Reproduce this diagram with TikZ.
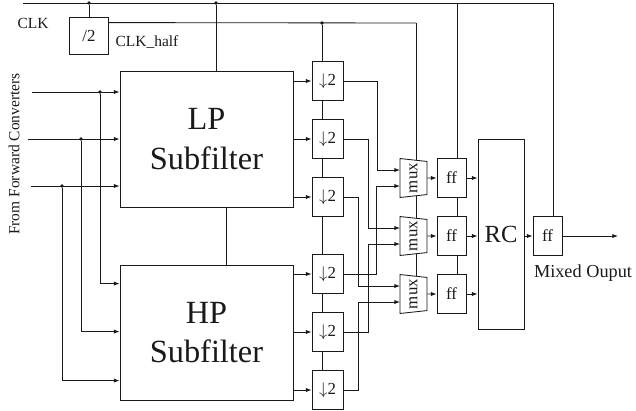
\documentclass[tikz,border=0pt]{standalone}
\usepackage{fontspec}
\setmainfont{Liberation Serif}
\usetikzlibrary{arrows.meta,shapes.geometric,calc,backgrounds}
\definecolor{wireink}{HTML}{1A1A1A}

\begin{document}
\begin{tikzpicture}[
  x=0.025cm,
  y=-0.025cm,
  every node/.style={font=\fontsize{11}{13}\selectfont, text=wireink},
  wire/.style={draw=wireink, line width=0.6pt},
  arr/.style={wire, -{Latex[length=4pt, width=3pt]}},
  blk/.style={draw=wireink, line width=0.6pt, fill=white, inner sep=0pt},
  dsbox/.style={blk, minimum width=0.775cm, minimum height=0.975cm, font=\fontsize{12}{14}\selectfont},
  ffbox/.style={blk, minimum width=0.725cm, minimum height=0.975cm, font=\fontsize{12}{14}\selectfont},
  muxbox/.style={blk, trapezium, trapezium angle=72, trapezium stretches=true,
    rotate=90, shape border rotate=180, minimum width=0.975cm, minimum height=0.675cm,
    font=\fontsize{12}{14}\selectfont},
  dot/.style={circle, fill=wireink, inner sep=0pt, minimum size=2.6pt}
]
  \useasboundingbox (0,0) rectangle (636,410);

  % Subfilters
  \node[blk, minimum width=4.325cm, minimum height=3.4cm, align=center,
    font=\fontsize{23}{29}\selectfont] (lp) at (206.5,139) {LP\\Subfilter};
  \node[blk, minimum width=4.325cm, minimum height=3.375cm, align=center,
    font=\fontsize{23}{28}\selectfont] (hp) at (206.5,332.5) {HP\\Subfilter};

  % Decimators
  \foreach \i/\y in {1/81,2/139,3/197,4/274,5/332,6/390}
    \node[dsbox] (ds\i) at (327.5,\y) {$\downarrow$2};

  % Multiplexers and flip-flops
  \foreach \i/\y in {1/178,2/236,3/294} {
    \node[muxbox] (mux\i) at (413.5,\y) {mux};
    \node[ffbox] (ff\i) at (451.5,\y) {ff};
    \coordinate (mux\i-a) at (400,\y-8);
    \coordinate (mux\i-b) at (400,\y+8);
  }
  \node[blk, minimum width=1.15cm, minimum height=4.75cm,
    font=\fontsize{17.5}{20}\selectfont] (rc) at (501,234) {RC};
  \node[ffbox] (outff) at (547.5,236) {ff};
  \node[blk, minimum width=0.975cm, minimum height=0.925cm,
    font=\fontsize{12}{14}\selectfont] (div) at (89,35.5) {/2};

  % Labels
  \node (clklbl) at (33,23) {CLK};
  \node (halflbl) at (147,42) {CLK\_half};
  \node[font=\fontsize{13}{15}\selectfont] (outlbl) at (583,273) {Mixed Ouput};
  \node[rotate=90] (srclbl) at (14,154) {From Forward Converters};

  % Clock distribution
  \coordinate (clk) at (23,3);
  \coordinate (top) at (553,3);
  \coordinate (fftap) at (457,3);
  \coordinate (sel) at (416,23);
  \draw[wire] (clk) -- (top) -- (top |- outff.north);
  \node[dot] (d1) at (89,3) {};
  \node[dot] (d2) at (216,3) {};
  \node[dot] (d3) at (322,23) {};
  \draw[wire] (d1) -- (div.north);
  \draw[wire] (d2) -- (d2 |- lp.north);
  \draw[wire] ($(div.north east)+(0,6)$) -- (sel);
  \begin{scope}[on background layer]
    \draw[wire] (d3) -- (d3 |- ds6.center);
    \draw[wire] (sel) -- (sel |- mux3.center);
    \draw[wire] (fftap) -- (fftap |- ff3.center);
  \end{scope}
  \draw[wire] ($(lp.south)+(19.5,0)$) -- ($(hp.north)+(19.5,0)$);

  % Converter inputs
  \coordinate (src1) at (32,92);
  \coordinate (src2) at (28,139);
  \coordinate (src3) at (31,186);
  \foreach \i in {1,2,3}
    \draw[arr] (src\i) -- (src\i -| lp.west);
  \node[dot] (j1) at (100,92) {};
  \node[dot] (j2) at (81,139) {};
  \node[dot] (j3) at (62,186) {};
  \draw[arr] (j1) |- ($(hp.north west)+(0,19)$);
  \draw[arr] (j2) |- ($(hp.north west)+(0,67)$);
  \draw[arr] (j3) |- ($(hp.north west)+(0,116)$);

  % Subfilter outputs to decimators
  \foreach \i in {1,2,3}
    \draw[arr] (lp.east |- ds\i) -- (ds\i.west);
  \foreach \i in {4,5,6}
    \draw[arr] (hp.east |- ds\i) -- (ds\i.west);

  % Decimators to multiplexers
  \foreach \s/\m/\d in {1/mux1-a/34, 4/mux1-b/33, 2/mux2-a/25, 5/mux2-b/25, 3/mux3-a/15, 6/mux3-b/15}
    \draw[arr] (ds\s.east) -- ++(\d,0) |- (\m);

  % Multiplexers, flip-flops and RC
  \foreach \i in {1,2,3} {
    \draw[arr] (mux\i.south) -- (ff\i.west);
    \draw[arr] (ff\i.east) -- (ff\i.east -| rc.west);
  }
  \coordinate (out) at (618,236);
  \draw[arr] (rc.east |- outff) -- (outff.west);
  \draw[arr] (outff.east) -- (out);
\end{tikzpicture}
\end{document}
